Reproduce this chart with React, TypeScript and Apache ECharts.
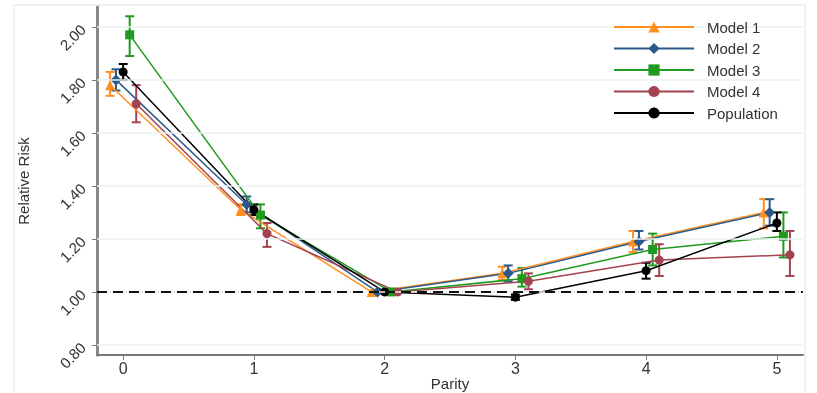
import React, { useEffect, useRef } from "react";
import * as echarts from "echarts";

// Parity categories and tick values
const parity = [0, 1, 2, 3, 4, 5];
const yTicks = [0.8, 1.0, 1.2, 1.4, 1.6, 1.8, 2.0];

const seriesNames = ["Model 1", "Model 2", "Model 3", "Model 4", "Population"];

// Relative risk estimates and 95% intervals (parity 2 is the reference group)
const model1 = [1.78, 1.31, 1.0, 1.07, 1.19, 1.3];
const model1Low = [1.74, 1.29, null, 1.045, 1.15, 1.24];
const model1High = [1.83, 1.33, null, 1.095, 1.23, 1.35];

const model2 = [1.8, 1.33, 1.0, 1.07, 1.19, 1.3];
const model2Low = [1.76, 1.3, null, 1.04, 1.16, 1.25];
const model2High = [1.84, 1.36, null, 1.1, 1.23, 1.35];

const model3 = [1.97, 1.29, 1.0, 1.05, 1.16, 1.21];
const model3Low = [1.89, 1.24, null, 1.02, 1.1, 1.13];
const model3High = [2.04, 1.33, null, 1.09, 1.22, 1.3];

const model4 = [1.71, 1.22, 1.0, 1.04, 1.12, 1.14];
const model4Low = [1.64, 1.17, null, 1.01, 1.06, 1.06];
const model4High = [1.78, 1.26, null, 1.07, 1.18, 1.23];

const population = [1.83, 1.31, 1.0, 0.98, 1.08, 1.26];
const populationLow = [1.8, 1.29, null, 0.97, 1.05, 1.23];
const populationHigh = [1.86, 1.33, null, 0.99, 1.11, 1.3];

const referenceLevel = 1.0;

// Horizontal dodge per series so the intervals don't overlap
const xOffsets = [-0.1, -0.055, 0.05, 0.1, 0];
const colors = ["#ff8f1f", "#2b5a8a", "#1f9a1f", "#a3434f", "#000000"];
const symbols = ["triangle", "diamond", "rect", "circle", "circle"];
const symbolSizes = [10, 11, 9, 9, 9];

const values = [model1, model2, model3, model4, population];
const lows = [model1Low, model2Low, model3Low, model4Low, populationLow];
const highs = [model1High, model2High, model3High, model4High, populationHigh];

const FONT = "'Liberation Sans', Arial, sans-serif";

export default function App() {
  const ref = useRef<HTMLDivElement>(null);

  useEffect(() => {
    if (!ref.current) return;
    const chart = echarts.init(ref.current, null, { renderer: "svg" });

    const lineSeries: any[] = seriesNames.map((name, i) => ({
      name,
      type: "line",
      data: parity.map((p, k) => [p + xOffsets[i], values[i][k]]),
      symbol: symbols[i],
      symbolSize: symbolSizes[i],
      lineStyle: { color: colors[i], width: 1.5 },
      itemStyle: { color: colors[i] },
      z: 3,
    }));

    const errorSeries: any[] = seriesNames.map((name, i) => ({
      name: name + " CI",
      type: "custom",
      data: parity
        .map((p, k) => [p + xOffsets[i], lows[i][k], highs[i][k]])
        .filter((d) => d[1] != null),
      renderItem: (params: any, api: any) => {
        const x = api.value(0);
        const lo = api.coord([x, api.value(1)]);
        const hi = api.coord([x, api.value(2)]);
        const w = 4.5;
        const style = { stroke: colors[i], lineWidth: 2 };
        return {
          type: "group",
          children: [
            { type: "line", shape: { x1: hi[0], y1: hi[1], x2: lo[0], y2: lo[1] }, style },
            { type: "line", shape: { x1: hi[0] - w, y1: hi[1], x2: hi[0] + w, y2: hi[1] }, style },
            { type: "line", shape: { x1: lo[0] - w, y1: lo[1], x2: lo[0] + w, y2: lo[1] }, style },
          ],
        };
      },
      z: 2,
    }));

    // Gridlines and the reference line at RR = 1
    const guideSeries = {
      name: "guides",
      type: "line",
      data: [],
      silent: true,
      markLine: {
        silent: true,
        symbol: "none",
        label: { show: false },
        data: [
          ...yTicks.map((v) => ({ yAxis: v, lineStyle: { color: "#eaf1f1", width: 1.5, type: "solid" } })),
          { yAxis: referenceLevel, lineStyle: { color: "#111", width: 2, type: [10, 6] } },
        ],
      },
      z: 1,
    };

    chart.setOption({
      animation: false,
      textStyle: { fontFamily: FONT },
      graphic: [
        {
          type: "rect",
          shape: { x: 14, y: 5, width: 791, height: 400 },
          style: { fill: "none", stroke: "#e8eff1", lineWidth: 1.5 },
          z: 0,
        },
      ],
      grid: { left: 97, right: 14, top: 7, bottom: 38, outerBoundsMode: "none" },
      legend: {
        data: seriesNames,
        orient: "vertical",
        left: 613,
        top: 19.5,
        padding: 0,
        z: 10,
        itemWidth: 80,
        itemHeight: 14,
        itemGap: 6.5,
        textStyle: {
          fontFamily: FONT,
          fontSize: 15,
          lineHeight: 15,
          color: "#333",
          padding: [0, 0, 0, 8],
        },
      },
      xAxis: {
        type: "value",
        min: -0.2,
        max: 5.2,
        name: "Parity",
        nameLocation: "middle",
        nameGap: 21,
        nameMoveOverlap: false,
        nameTextStyle: { fontFamily: FONT, fontSize: 15, color: "#333", verticalAlign: "top" },
        axisLine: { show: true, onZero: false, lineStyle: { color: "#777", width: 2 } },
        axisTick: { show: true, customValues: parity, length: 5, lineStyle: { color: "#777" } },
        axisLabel: { customValues: parity, fontSize: 16, color: "#333", margin: 5 },
        splitLine: { show: false },
      },
      yAxis: {
        type: "value",
        min: 0.762,
        max: 2.075,
        name: "Relative Risk",
        nameLocation: "middle",
        nameGap: 66,
        nameMoveOverlap: false,
        nameTextStyle: { fontFamily: FONT, fontSize: 15, color: "#333" },
        axisLine: { show: true, onZero: false, lineStyle: { color: "#888", width: 3 } },
        axisTick: { show: true, customValues: yTicks, length: 5, lineStyle: { color: "#777" } },
        axisLabel: {
          customValues: yTicks,
          rotate: 45,
          fontSize: 15,
          color: "#333",
          margin: 14,
          formatter: (v: number) => v.toFixed(2),
        },
        splitLine: { show: false },
      },
      series: [guideSeries, ...errorSeries, ...lineSeries],
    });

    return () => chart.dispose();
  }, []);

  return (
    <div
      ref={ref}
      style={{ position: "fixed", left: 0, top: 0, width: 817, height: 393 }}
    />
  );
}
